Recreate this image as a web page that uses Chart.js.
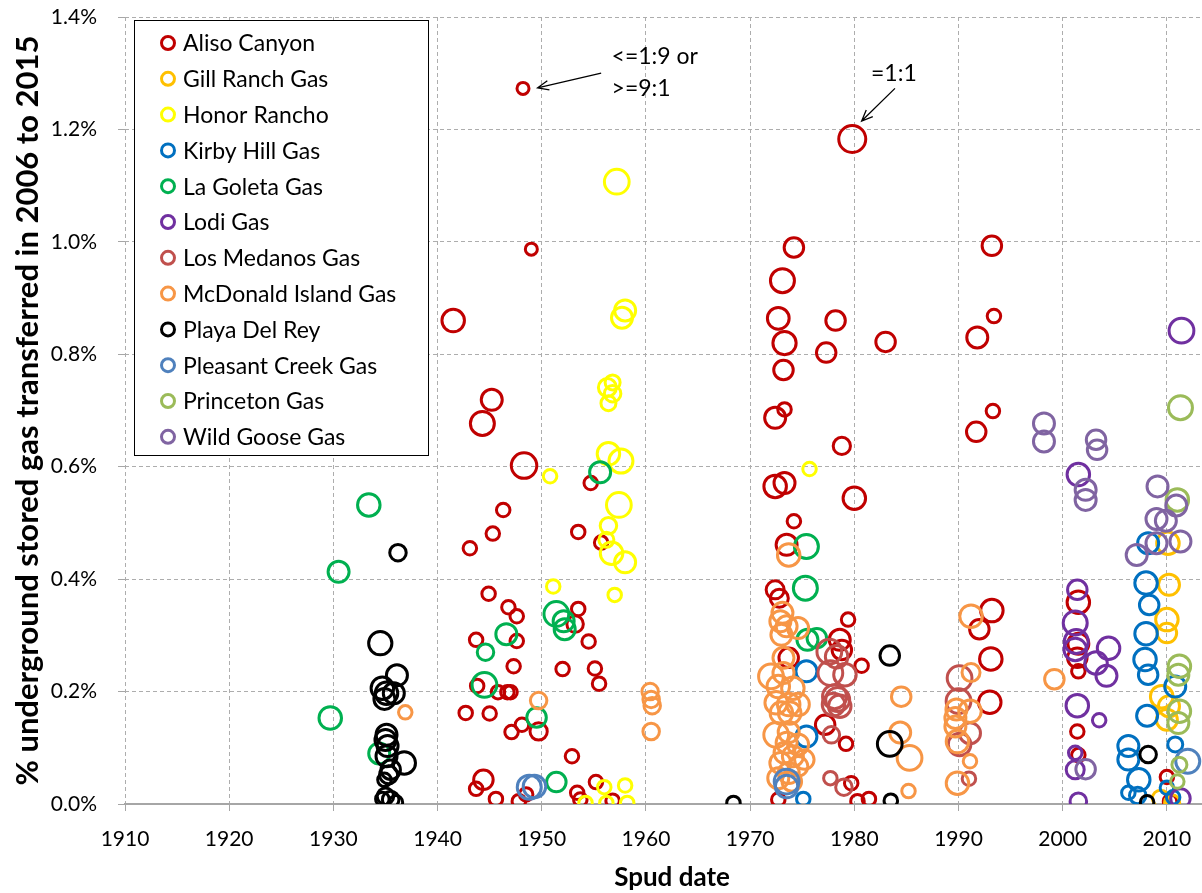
<!DOCTYPE html>
<html>
<head>
<meta charset="utf-8">
<script src="https://cdn.jsdelivr.net/npm/chart.js@4.4.0/dist/chart.umd.min.js"></script>
<style>
  html, body { margin: 0; padding: 0; overflow: hidden; background: #fff; }
  #wrap { width: 1222px; height: 893px; }
</style>
</head>
<body>
<div id="wrap"><canvas id="chart" width="1222" height="893"></canvas></div>
<script>
// [spud year, % of stored gas transferred 2006-2015, balance (0 = <=1:9 or >=9:1, 1 = 1:1)]
const alisoCanyon = [
  [1948.2,1.273,0],[1979.8,1.183,1],[1949.0,0.987,0],[1974.2,0.990,0.5],[1993.2,0.993,0.5],
  [1973.1,0.931,0.8],[1941.5,0.860,0.7],[1972.7,0.864,0.65],[1978.2,0.860,0.5],[1973.3,0.820,0.75],
  [1983.0,0.822,0.5],[1991.8,0.830,0.6],[1993.4,0.868,0.1],[1977.3,0.803,0.5],[1973.2,0.772,0.5],
  [1973.3,0.702,0.1],[1972.4,0.687,0.6],[1993.3,0.699,0.1],[1991.7,0.662,0.5],[1945.2,0.719,0.6],
  [1944.3,0.677,0.8],[1948.3,0.602,0.9],[1978.8,0.637,0.35],[1980.0,0.544,0.7],[1972.4,0.565,0.7],
  [1973.3,0.571,0.6],[1954.7,0.571,0.1],[1973.5,0.461,0.6],[1974.2,0.503,0.1],[1946.3,0.523,0.1],
  [1945.3,0.481,0.1],[1953.5,0.484,0.1],[1943.1,0.455,0.1],[1955.7,0.465,0.1],[1944.9,0.374,0.1],
  [1946.8,0.350,0.1],[1947.6,0.334,0.1],[1953.5,0.347,0.1],[1953.2,0.320,0.3],[1943.7,0.292,0.1],
  [1947.6,0.290,0.1],[1954.5,0.289,0.1],[1947.3,0.245,0.1],[1952.0,0.240,0.1],[1955.1,0.241,0.1],
  [1955.5,0.214,0.1],[1943.8,0.210,0.1],[1945.8,0.199,0.1],[1946.7,0.199,0.1],[1947.0,0.199,0.1],
  [1942.7,0.162,0.1],[1945.0,0.161,0.1],[1948.1,0.141,0.1],[1947.1,0.128,0.1],[1949.7,0.129,0.35],
  [1952.9,0.085,0.1],[1944.4,0.043,0.5],[1943.7,0.027,0.1],[1945.6,0.009,0.1],[1948.5,0.017,0.1],
  [1947.8,0.005,0.1],[1955.2,0.039,0.1],[1953.4,0.020,0.1],[1953.7,0.008,0.1],[1956.8,0.006,0.1],
  [1972.4,0.381,0.4],[1972.8,0.366,0.4],[1979.4,0.328,0.1],[1978.6,0.292,0.6],[1978.8,0.274,0.5],
  [1973.7,0.260,0.5],[1980.7,0.246,0.1],[1977.2,0.141,0.5],[1979.2,0.107,0.1],[1979.7,0.037,0.1],
  [1980.3,0.005,0.1],[1981.4,0.009,0.1],[1972.7,0.008,0.1],
  [1993.2,0.344,0.7],[1992.0,0.311,0.5],[1993.1,0.258,0.7],[1993.0,0.181,0.7],
  [2001.5,0.359,0.7],[2001.5,0.285,0.6],[2001.4,0.260,0.5],[2001.5,0.236,0.1],[2001.4,0.129,0.1],
  [2001.5,0.087,0.1],[2010.0,0.048,0.1],[2010.3,0.005,0.1]
];
const gillRanch = [
  [2010.1,0.464,0.7],[2010.2,0.390,0.6],[2010.0,0.328,0.7],[2010.0,0.304,0.5],[2009.5,0.191,0.7],
  [2010.2,0.174,0.6],[2010.0,0.150,0.6],[2009.4,0.010,0.3],[2010.5,0.003,0.2]
];
const honorRancho = [
  [1957.2,1.107,0.85],[1958.0,0.878,0.6],[1957.7,0.865,0.6],[1956.8,0.750,0.2],[1956.3,0.741,0.4],
  [1956.8,0.730,0.3],[1956.4,0.713,0.2],[1950.8,0.583,0.1],[1956.4,0.623,0.7],[1957.6,0.610,0.8],
  [1957.4,0.532,0.85],[1956.4,0.495,0.3],[1956.2,0.470,0.2],[1956.7,0.446,0.7],[1958.0,0.430,0.6],
  [1951.1,0.387,0.1],[1957.0,0.372,0.1],[1975.7,0.596,0.1],[1956.0,0.030,0.1],[1958.0,0.033,0.1],
  [1954.2,0.002,0.1],[1956.2,0.002,0.1],[1958.2,0.002,0.1]
];
const kirbyHill = [
  [1975.4,0.236,0.6],[1975.4,0.120,0.6],[1975.1,0.009,0.1],[2008.2,0.464,0.6],[2008.0,0.393,0.7],
  [2008.3,0.354,0.5],[2008.0,0.303,0.7],[2007.9,0.257,0.7],[2008.2,0.230,0.5],[2010.8,0.209,0.6],
  [2008.1,0.157,0.6],[2006.3,0.103,0.6],[2006.3,0.079,0.6],[2010.8,0.106,0.2],[2007.3,0.043,0.7],
  [2006.3,0.020,0.1],[2007.2,0.015,0.3],[2010.0,0.029,0.1],[2010.6,0.012,0.1]
];
const laGoleta = [
  [1933.4,0.532,0.7],[1930.5,0.413,0.6],[1929.7,0.153,0.7],[1934.4,0.090,0.6],[1955.6,0.590,0.6],
  [1951.4,0.338,0.85],[1952.1,0.325,0.6],[1952.2,0.311,0.6],[1946.6,0.302,0.6],[1944.6,0.270,0.3],
  [1944.5,0.212,0.85],[1949.5,0.154,0.5],[1951.4,0.039,0.5],[1975.4,0.458,0.8],[1975.3,0.384,0.8],
  [1975.5,0.292,0.6],[1976.4,0.295,0.5]
];
const lodi = [
  [2011.4,0.842,0.85],[2001.5,0.586,0.7],[2001.4,0.381,0.5],[2001.2,0.322,0.8],[2001.3,0.289,0.8],
  [2001.2,0.275,0.7],[2004.4,0.277,0.7],[2003.2,0.251,0.7],[2004.2,0.228,0.6],[2001.4,0.175,0.7],
  [2003.5,0.149,0.1],[2001.2,0.091,0.1],[2001.2,0.061,0.4],[2001.5,0.005,0.3],[2011.3,0.010,0.5]
];
const losMedanos = [
  [1977.6,0.271,0.85],[1978.3,0.262,0.7],[1977.7,0.233,0.85],[1979.1,0.230,0.7],[1978.1,0.191,0.8],
  [1978.4,0.186,0.8],[1978.6,0.174,0.7],[1978.0,0.177,0.7],[1977.8,0.123,0.3],[1977.7,0.046,0.1],
  [1979.0,0.030,0.3],[1990.1,0.224,0.85],[1990.0,0.183,0.85],[1991.1,0.126,0.6],[1990.1,0.106,0.7],
  [1991.0,0.045,0.1]
];
const mcdonaldIsland = [
  [1936.9,0.163,0.1],[1949.7,0.184,0.3],[1960.4,0.200,0.3],[1960.5,0.186,0.3],[1960.6,0.175,0.3],
  [1960.5,0.129,0.3],[1973.7,0.443,0.7],[1973.1,0.340,0.6],[1972.9,0.325,0.6],[1973.5,0.316,0.6],
  [1974.6,0.313,0.6],[1973.0,0.301,0.6],[1973.2,0.260,0.6],[1972.0,0.227,0.85],[1973.2,0.233,0.6],
  [1972.7,0.209,0.7],[1974.1,0.206,0.7],[1972.5,0.180,0.7],[1973.7,0.177,0.7],[1974.6,0.177,0.7],
  [1973.0,0.162,0.7],[1973.8,0.162,0.7],[1972.5,0.123,0.85],[1973.7,0.128,0.6],[1973.5,0.109,0.6],
  [1974.6,0.106,0.6],[1973.3,0.091,0.6],[1974.1,0.085,0.6],[1975.2,0.079,0.5],[1972.9,0.073,0.6],
  [1974.6,0.067,0.5],[1973.7,0.055,0.6],[1972.7,0.046,0.6],[1974.0,0.040,0.5],
  [1984.5,0.191,0.5],[1984.4,0.127,0.6],[1985.3,0.082,0.85],[1985.2,0.023,0.1],
  [1991.2,0.334,0.7],[1991.2,0.234,0.4],[1991.1,0.165,0.7],[1989.8,0.168,0.6],[1989.7,0.153,0.6],
  [1989.7,0.138,0.6],[1989.9,0.111,0.7],[1991.1,0.076,0.1],[1989.9,0.037,0.7],[1999.2,0.222,0.5]
];
const playaDelRey = [
  [1936.2,0.447,0.3],[1934.5,0.286,0.75],[1936.1,0.229,0.6],[1934.7,0.206,0.7],[1935.1,0.197,0.7],
  [1935.8,0.197,0.6],[1934.9,0.187,0.6],[1935.1,0.123,0.6],[1935.0,0.114,0.6],[1935.2,0.103,0.6],
  [1935.1,0.085,0.6],[1936.8,0.073,0.7],[1935.5,0.061,0.5],[1935.3,0.052,0.4],[1934.9,0.043,0.1],
  [1935.0,0.014,0.3],[1935.5,0.008,0.3],[1934.7,0.009,0.1],[1936.0,0.003,0.1],[1968.4,0.002,0.1],
  [1983.4,0.264,0.5],[1983.4,0.107,0.85],[1983.5,0.006,0.1],[2008.2,0.088,0.3],[2008.1,0.003,0.1]
];
const pleasantCreek = [
  [1948.8,0.030,0.8],[1949.3,0.031,0.7],[1973.5,0.040,0.85],[1973.5,0.031,0.7],[2012.0,0.076,0.8]
];
const princeton = [
  [2011.3,0.705,0.8],[2011.0,0.541,0.7],[2011.2,0.245,0.7],[2011.1,0.230,0.6],[2011.2,0.165,0.7],
  [2011.1,0.144,0.6],[2011.2,0.070,0.2],[2011.0,0.040,0.1]
];
const wildGoose = [
  [1998.2,0.677,0.6],[1998.2,0.645,0.6],[2003.2,0.648,0.5],[2003.3,0.630,0.5],[2002.2,0.559,0.6],
  [2002.2,0.541,0.6],[2009.1,0.565,0.6],[2010.9,0.531,0.6],[2009.0,0.507,0.6],[2009.9,0.504,0.6],
  [2009.0,0.464,0.6],[2011.3,0.467,0.6],[2007.1,0.443,0.6],[2002.2,0.062,0.5]
];

const fieldNames = ['Aliso Canyon','Gill Ranch Gas','Honor Rancho','Kirby Hill Gas','La Goleta Gas','Lodi Gas',
  'Los Medanos Gas','McDonald Island Gas','Playa Del Rey','Pleasant Creek Gas','Princeton Gas','Wild Goose Gas'];
const fieldData = [alisoCanyon, gillRanch, honorRancho, kirbyHill, laGoleta, lodi,
  losMedanos, mcdonaldIsland, playaDelRey, pleasantCreek, princeton, wildGoose];
const fieldColors = ['#C00000','#FFC000','#FFFF00','#0070C0','#00B050','#7030A0',
  '#C0504D','#F79646','#000000','#4F81BD','#9BBB59','#8064A2'];

const yTicks = [0, 0.2, 0.4, 0.6, 0.8, 1.0, 1.2, 1.4];
const xTicks = [1910, 1920, 1930, 1940, 1950, 1960, 1970, 1980, 1990, 2000, 2010];

// annotation: text lines at [x, y], arrow from tail to head (data coords)
const notes = [
  { lines: ['<=1:9 or', '>=9:1'], at: [1956.7, 1.329], tail: [1955.7, 1.300], head: [1949.6, 1.274] },
  { lines: ['=1:1'], at: [1981.6, 1.300], tail: [1983.9, 1.273], head: [1980.7, 1.215] }
];

const FONT = 'Lato, "Open Sans", sans-serif';
const radius = b => 6 + 7.5 * b;

const datasets = fieldData.map((pts, i) => ({
  label: fieldNames[i],
  data: pts.map(p => ({ x: p[0], y: p[1], r: radius(p[2]) })),
  borderColor: fieldColors[i],
  backgroundColor: 'rgba(0,0,0,0)',
  borderWidth: 3,
  hoverBorderWidth: 3,
  order: fieldData.length - i
}));

const legendBox = {
  id: 'legendBox',
  afterDatasetsDraw(chart) {
    const ctx = chart.ctx;
    ctx.save();
    ctx.fillStyle = '#fff';
    ctx.fillRect(134.5, 20.5, 294, 435);
    ctx.strokeStyle = '#000'; ctx.lineWidth = 1;
    ctx.strokeRect(134.5, 20.5, 294, 435);
    ctx.font = '23px ' + FONT;
    ctx.textBaseline = 'middle';
    fieldNames.forEach((n, i) => {
      const y = 43 + i * 35.8;
      ctx.beginPath();
      ctx.arc(168, y, 6.5, 0, Math.PI * 2);
      ctx.strokeStyle = fieldColors[i]; ctx.lineWidth = 3;
      ctx.stroke();
      ctx.fillStyle = '#000';
      ctx.fillText(n, 183, y + 1);
    });
    ctx.restore();
  }
};

const notesPlugin = {
  id: 'notes',
  afterDatasetsDraw(chart) {
    const { ctx, scales: { x, y } } = chart;
    ctx.save();
    ctx.font = '23px ' + FONT;
    ctx.fillStyle = '#000';
    ctx.strokeStyle = '#000';
    ctx.lineWidth = 1.3;
    ctx.textBaseline = 'middle';
    notes.forEach(n => {
      const tx = x.getPixelForValue(n.at[0]), ty = y.getPixelForValue(n.at[1]);
      n.lines.forEach((l, k) => ctx.fillText(l, tx, ty + k * 32));
      const x0 = x.getPixelForValue(n.tail[0]), y0 = y.getPixelForValue(n.tail[1]);
      const x1 = x.getPixelForValue(n.head[0]), y1 = y.getPixelForValue(n.head[1]);
      const a = Math.atan2(y1 - y0, x1 - x0);
      ctx.beginPath();
      ctx.moveTo(x0, y0); ctx.lineTo(x1, y1);
      ctx.moveTo(x1 - 12 * Math.cos(a - 0.4), y1 - 12 * Math.sin(a - 0.4));
      ctx.lineTo(x1, y1);
      ctx.lineTo(x1 - 12 * Math.cos(a + 0.4), y1 - 12 * Math.sin(a + 0.4));
      ctx.stroke();
    });
    ctx.restore();
  }
};

const gridOpts = { color: '#ADADAD', lineWidth: 1, tickLength: 7, tickColor: '#A6A6A6', tickBorderDash: [] };

new Chart(document.getElementById('chart'), {
  type: 'bubble',
  data: { datasets },
  options: {
    responsive: false,
    animation: false,
    layout: { autoPadding: false, padding: { top: 17, right: 3, left: 0, bottom: 0 } },
    plugins: { legend: { display: false }, tooltip: { enabled: false } },
    scales: {
      x: {
        type: 'linear', min: 1910, max: 2015,
        afterFit: s => { s.height = 89; s.paddingLeft = 0; s.paddingRight = 0; },
        afterBuildTicks: s => { s.ticks = xTicks.map(v => ({ value: v })); },
        ticks: { color: '#000', font: { family: FONT, size: 21 }, padding: 16, maxRotation: 0,
          callback: v => String(v) },
        grid: gridOpts,
        border: { display: true, color: '#A6A6A6', width: 2, dash: [4, 3] },
        title: { display: true, text: 'Spud date', color: '#000',
          font: { family: FONT, size: 26, weight: 'bold' }, padding: { top: 0, bottom: 0 } }
      },
      y: {
        type: 'linear', min: 0, max: 1.4,
        afterFit: s => { s.width = 125; s.paddingTop = 0; s.paddingBottom = 0; },
        afterBuildTicks: s => { s.ticks = yTicks.map(v => ({ value: v })); },
        ticks: { color: '#000', font: { family: FONT, size: 21 }, padding: 21,
          callback: v => v.toFixed(1) + '%' },
        grid: gridOpts,
        border: { display: false, dash: [4, 3] },
        title: { display: true, text: '% underground stored gas transferred in 2006 to 2015', color: '#000',
          font: { family: FONT, size: 31, weight: 'bold' }, padding: { top: 9, bottom: 0 } }
      }
    }
  },
  plugins: [legendBox, notesPlugin]
});
</script>
</body>
</html>
